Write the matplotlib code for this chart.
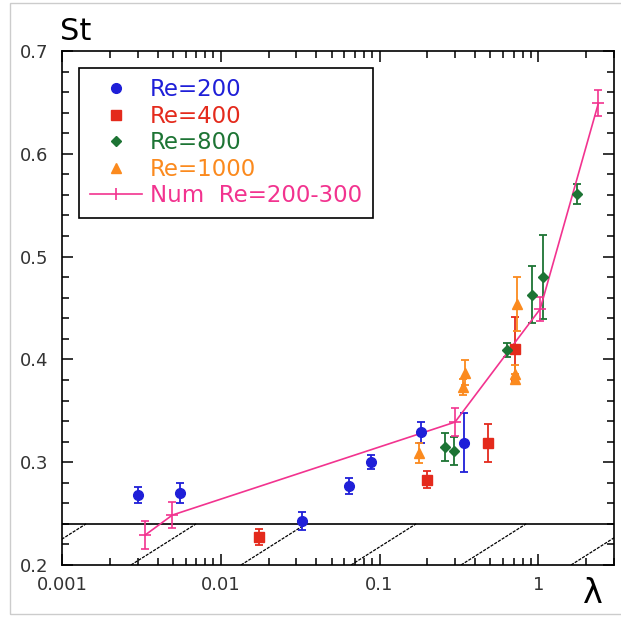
import numpy as np
import matplotlib.pyplot as plt
from matplotlib.lines import Line2D
from matplotlib.patches import Rectangle
from matplotlib.ticker import LogLocator, MultipleLocator, FixedFormatter, FixedLocator
import matplotlib.transforms as mtransforms

# Re=200
lam200 = [0.0030, 0.00556, 0.0324, 0.0643, 0.0881, 0.183, 0.343]
st200 = [0.268, 0.270, 0.243, 0.277, 0.300, 0.329, 0.319]
err200 = [0.008, 0.010, 0.009, 0.008, 0.007, 0.0105, 0.029]

# Re=400
lam400 = [0.0173, 0.200, 0.479, 0.718]
st400 = [0.2275, 0.283, 0.319, 0.410]
err400 = [0.008, 0.008, 0.0185, 0.031]

# Re=800
lam800 = [0.257, 0.294, 0.637, 0.910, 1.064, 1.75]
st800 = [0.3145, 0.311, 0.409, 0.463, 0.480, 0.561]
err800 = [0.0135, 0.014, 0.007, 0.028, 0.041, 0.0094]

# Re=1000
lam1000 = [0.178, 0.346, 0.337, 0.733, 0.71, 0.71]
st1000 = [0.309, 0.387, 0.373, 0.454, 0.3855, 0.3806]
err1000 = [0.0095, 0.012, 0.008, 0.026, 0.009, 0.005]

# numerical, Re=200-300
lam_num = [0.00333, 0.00496, 0.299, 1.028, 2.39]
st_num = [0.229, 0.2486, 0.339, 0.449, 0.649]
err_num = [0.0135, 0.013, 0.0135, 0.012, 0.0127]

st_limit = 0.24
xticks = [0.001, 0.01, 0.1, 1]
xticklabels = ['0.001', '0.01', '0.1', '1']

blue = '#1f1fd8'
red = '#e42a1c'
green = '#1d7434'
orange = '#fb8a1e'
pink = '#f2338f'

fig = plt.figure(figsize=(6.21, 6.17), dpi=100)
ax = fig.add_axes([62/621, 1-565/617, 552/621, 514/617])

series = [
    (lam200, st200, err200, blue, 'o', 7, 'Re=200'),
    (lam400, st400, err400, red, 's', 7, 'Re=400'),
    (lam800, st800, err800, green, 'D', 5.5, 'Re=800'),
    (lam1000, st1000, err1000, orange, '^', 7, 'Re=1000'),
]
handles = []
for x, y, e, c, m, ms, lab in series:
    ax.errorbar(x, y, yerr=e, fmt='none', ecolor=c, elinewidth=1.3,
                capsize=3, capthick=1.3, zorder=3)
    h, = ax.plot(x, y, linestyle='none', marker=m, ms=ms, color=c,
                 label=lab, zorder=4)
    handles.append(h)

ax.errorbar(lam_num, st_num, yerr=err_num, fmt='none', ecolor=pink,
            elinewidth=1.2, capsize=3, capthick=1.2, zorder=3)
ax.plot(lam_num, st_num, color=pink, lw=1.2, marker='_', ms=8, mew=1.2, zorder=3)
handles.append(Line2D([], [], color=pink, lw=1.2, marker='|', ms=8, mew=1.2,
                      label='Num  Re=200-300'))

# limit line and hatching below it
ax.axhline(st_limit, color='black', lw=1.2, zorder=2)
trans = mtransforms.blended_transform_factory(ax.transAxes, ax.transData)
for k in range(-1, 6):
    x0 = 0.125 + k * 0.1993
    ax.plot([x0, x0 + 0.1178], [0.2, st_limit], transform=trans,
            color='black', lw=0.9, linestyle=(0, (2.5, 1)), zorder=1)

ax.set_xscale('log')
ax.set_xlim(0.001, 3.0)
ax.set_ylim(0.2, 0.7)
ax.xaxis.set_major_locator(FixedLocator(xticks))
ax.xaxis.set_major_formatter(FixedFormatter(xticklabels))
ax.xaxis.set_minor_locator(LogLocator(base=10, subs=np.arange(2, 10)))
ax.xaxis.set_minor_formatter(FixedFormatter([]))
ax.yaxis.set_major_locator(MultipleLocator(0.1))
ax.yaxis.set_minor_locator(MultipleLocator(0.02))
ax.yaxis.set_major_formatter(plt.FuncFormatter(lambda v, p: f'{v:.1f}'))
ax.tick_params(which='both', direction='in', top=True, right=True,
               labelsize=13, labelcolor='#333333', width=1.1)
ax.tick_params(which='major', length=8)
ax.tick_params(which='minor', length=5)
ax.tick_params(axis='y', pad=10)
ax.tick_params(axis='x', pad=8)
for s in ax.spines.values():
    s.set_linewidth(1.2)

leg = ax.legend(handles=handles, loc='upper left', fontsize=16.5,
                frameon=True, fancybox=False, edgecolor='black',
                framealpha=1, borderaxespad=0.75, borderpad=0.45,
                labelspacing=0.15, handlelength=2.3, handletextpad=0.35,
                numpoints=1)
leg.get_frame().set_linewidth(1.2)
for t, h in zip(leg.get_texts(), handles):
    t.set_color(h.get_color())

fig.text(60/621, 1-40/617, 'St', fontsize=22, ha='left', va='baseline')
fig.text(593/621, 1-603/617, 'λ', fontsize=24, ha='center', va='baseline')

fig.patches.append(Rectangle((10/621, 3/617), 1.0, 611/617, transform=fig.transFigure,
                             fill=False, edgecolor='#cccccc', lw=1))

fig.savefig('out.png', dpi=100)
